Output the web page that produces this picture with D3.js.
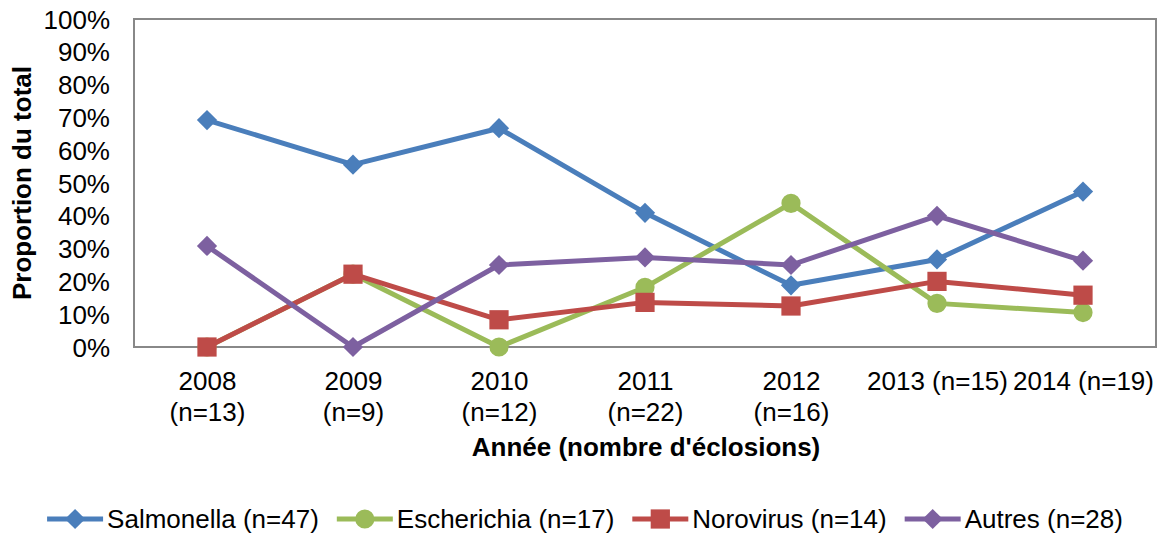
<!DOCTYPE html>
<html>
<head>
<meta charset="utf-8">
<script src="https://cdn.jsdelivr.net/npm/d3@7"></script>
<style>
  body { margin: 0; background: #fff; }
  text { font-family: "Liberation Sans", Arial, sans-serif; fill: #000; }
</style>
</head>
<body>
<div id="main"></div>
<script>
// data (share of outbreaks per year)
var years = ['2008', '2009', '2010', '2011', '2012', '2013', '2014'];
var yearLabels = [['2008', '(n=13)'], ['2009', '(n=9)'], ['2010', '(n=12)'], ['2011', '(n=22)'],
                  ['2012', '(n=16)'], ['2013 (n=15)'], ['2014 (n=19)']];
var salmonella = [0.692, 0.556, 0.667, 0.409, 0.188, 0.267, 0.474];
var escherichia = [0, 0.222, 0, 0.182, 0.438, 0.133, 0.105];
var norovirus = [0, 0.222, 0.083, 0.136, 0.125, 0.200, 0.158];
var autres = [0.308, 0, 0.250, 0.273, 0.250, 0.400, 0.263];
var seriesNames = ['Salmonella (n=47)', 'Escherichia (n=17)', 'Norovirus (n=14)', 'Autres (n=28)'];
var yTicks = [0, 0.1, 0.2, 0.3, 0.4, 0.5, 0.6, 0.7, 0.8, 0.9, 1];

var series = [
	{name: seriesNames[0], values: salmonella, color: '#4a7ebb', shape: 'diamond'},
	{name: seriesNames[1], values: escherichia, color: '#9bbb59', shape: 'circle'},
	{name: seriesNames[2], values: norovirus, color: '#be4b48', shape: 'square'},
	{name: seriesNames[3], values: autres, color: '#7d60a0', shape: 'diamond'}
];

var svgWidth = 1160, svgHeight = 533;
var plot = {left: 134, right: 1156, top: 19, bottom: 347};

var svg = d3.select('#main').append('svg')
			.attr('width', svgWidth)
			.attr('height', svgHeight);

var x = d3.scalePoint().domain(years).range([plot.left, plot.right]).padding(0.5);
var y = d3.scaleLinear().domain([0, 1]).range([plot.bottom, plot.top]);

// marker path for a shape
function markerPath(shape){
	if(shape == 'circle') return d3.symbol(d3.symbolCircle, 290)();
	if(shape == 'square') return d3.symbol(d3.symbolSquare, 370)();
	return d3.symbol(d3.symbolSquare, 205)(); // rotated later -> diamond
}

// y axis
var yAxis = svg.append('g')
	.attr('transform', 'translate(' + plot.left + ',0)')
	.call(d3.axisLeft(y).tickValues(yTicks).tickFormat(d3.format('.0%')).tickSize(0).tickPadding(24));
yAxis.select('.domain').remove();
yAxis.selectAll('text').style('font-size', '26px').attr('dy', '0.35em');

// x axis with two line labels
var xAxis = svg.append('g')
	.attr('transform', 'translate(0,' + plot.bottom + ')')
	.call(d3.axisBottom(x).tickSize(0));
xAxis.select('.domain').remove();
xAxis.selectAll('text').each(function(d, i){
	var t = d3.select(this).text('').attr('y', 0).attr('dy', null).style('font-size', '26px');
	yearLabels[i].forEach(function(line, j){
		t.append('tspan').attr('x', 0).attr('y', 43 + j * 31).text(line);
	});
});

// plot frame
svg.append('rect')
	.attr('x', plot.left).attr('y', plot.top)
	.attr('width', plot.right - plot.left).attr('height', plot.bottom - plot.top)
	.style('fill', 'none').style('stroke', '#888').style('stroke-width', 2);

// axis titles
svg.append('text')
	.attr('x', (plot.left + plot.right) / 2 + 1).attr('y', 456)
	.attr('text-anchor', 'middle')
	.style('font-size', '26px').style('font-weight', 'bold')
	.text("Année (nombre d'éclosions)");

svg.append('text')
	.attr('transform', 'translate(31,' + ((plot.top + plot.bottom) / 2) + ') rotate(-90)')
	.attr('text-anchor', 'middle')
	.style('font-size', '26px').style('font-weight', 'bold')
	.text('Proportion du total');

// lines + markers
var line = d3.line()
	.x(function(d, i){ return x(years[i]); })
	.y(function(d){ return y(d); });

series.forEach(function(s){
	var g = svg.append('g');
	g.append('path')
		.attr('d', line(s.values))
		.style('fill', 'none').style('stroke', s.color)
		.style('stroke-width', 5).style('stroke-linejoin', 'round');
	g.selectAll('path.mk')
		.data(s.values)
		.enter()
		.append('path')
		.attr('class', 'mk')
		.attr('transform', function(d, i){
			var r = s.shape == 'diamond' ? ' rotate(45)' : '';
			return 'translate(' + x(years[i]) + ',' + y(d) + ')' + r;
		})
		.attr('d', markerPath(s.shape))
		.style('fill', s.color);
});

// legend
var legend = svg.append('g');
var items = legend.selectAll('g')
	.data(series)
	.enter()
	.append('g');
items.append('line')
	.attr('x1', 0).attr('x2', 56).attr('y1', 0).attr('y2', 0)
	.style('stroke', function(d){ return d.color; }).style('stroke-width', 5);
items.append('path')
	.attr('transform', function(d){ return 'translate(28,0)' + (d.shape == 'diamond' ? ' rotate(45)' : ''); })
	.attr('d', function(d){ return markerPath(d.shape); })
	.style('fill', function(d){ return d.color; });
items.append('text')
	.attr('x', 60).attr('y', 9)
	.style('font-size', '26px')
	.text(function(d){ return d.name; });

var widths = [];
items.each(function(){ widths.push(this.getBBox().width); });
var gap = 18;
var total = d3.sum(widths) + gap * (widths.length - 1);
var pos = 585 - total / 2;
items.attr('transform', function(d, i){
	var p = pos;
	pos += widths[i] + gap;
	return 'translate(' + p + ',519)';
});
</script>
</body>
</html>
